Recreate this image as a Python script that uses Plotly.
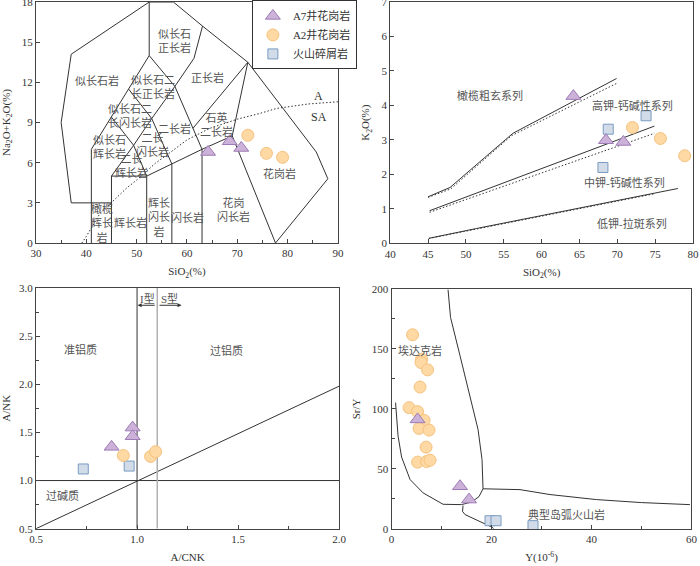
import plotly.graph_objects as go

# ---------------- data ----------------
# (a) TAS diagram
tas_a7_sio2 = [64.2, 68.5, 70.8]
tas_a7_alk = [6.8, 7.6, 7.1]
tas_a2_sio2 = [72.1, 75.8, 79.0]
tas_a2_alk = [8.05, 6.7, 6.4]

# (b) K2O - SiO2
k_a7_sio2 = [64.2, 68.5, 70.8]
k_a7_k2o = [4.27, 2.99, 2.94]
k_a2_sio2 = [72.0, 75.7, 78.9]
k_a2_k2o = [3.36, 3.04, 2.54]
k_vol_sio2 = [68.8, 73.8, 68.1]
k_vol_k2o = [3.31, 3.70, 2.20]

# (c) A/NK - A/CNK
acnk_a7 = [0.978, 0.978, 0.874]
ank_a7 = [1.55, 1.46, 1.35]
acnk_a2 = [0.932, 1.067, 1.092]
ank_a2 = [1.26, 1.25, 1.30]
acnk_vol = [0.734, 0.961]
ank_vol = [1.12, 1.15]

# (d) Sr/Y - Y
y_a7 = [5.2, 13.7, 15.5]
sry_a7 = [91.3, 35.6, 24.5]
y_a2 = [4.2, 6.0, 5.9, 7.2, 5.7, 3.5, 5.2, 6.5, 5.5, 7.5, 6.9, 5.2, 7.0, 7.7]
sry_a2 = [161.8, 141.5, 138.7, 132.6, 118.3, 101.1, 97.8, 90.5, 83.8, 82.4, 68.2, 55.7, 56.2, 57.3]
y_vol = [19.7, 20.9, 28.3]
sry_vol = [6.9, 6.9, 2.8]

# TAS field boundaries (SiO2, Na2O+K2O)
tas_boundaries = [
    ([52.5, 37.0, 35.0, 37.0, 45.0], [18.0, 14.1, 9.0, 3.0, 3.0]),
    ([41, 41], [0, 7]),
    ([41, 45, 48.4, 52.5], [7, 9.4, 11.5, 14]),
    ([52.5, 52.5, 57.3], [14, 18, 18]),
    ([57.3, 63.1, 72.1, 85.7, 88.0, 77.6], [18, 16.2, 13.5, 6.8, 4.8, 0]),
    ([63.1, 61.4, 57.6], [16.2, 13.8, 11.7]),
    ([45, 49.4, 53, 57.6], [5, 7.3, 9.3, 11.7]),
    ([48.4, 53, 57], [11.5, 9.3, 5.9]),
    ([45, 49.4, 52], [9.4, 7.3, 5]),
    ([52.5, 57.6, 63], [14, 11.7, 7]),
    ([61.2, 72.1], [8.57, 13.5]),
    ([69, 72.1], [8, 13.5]),
    ([69, 77.6], [8, 0]),
    ([45, 45, 52, 52], [0, 5, 5, 0]),
    ([52, 57, 63, 69], [5, 5.9, 7, 8]),
    ([57, 57], [0, 5.9]),
    ([63, 63], [0, 7]),
]
alk_sub_x = [39.1, 40, 42.7, 45, 48, 50, 53.7, 57.3, 60, 64.5, 70, 74.5, 77.8, 84, 90]
alk_sub_y = [0, 0.5, 2.2, 3.05, 4.1, 4.7, 5.95, 6.94, 7.7, 8.56, 9.25, 9.68, 10.05, 10.38, 10.55]

tas_labels = [
    (57.6, 15.1, "似长石<br>正长岩"), (42.05, 12.16, "似长石岩"), (64.0, 12.36, "正长岩"),
    (53.3, 11.67, "似长石二<br>长正长岩"), (48.7, 9.5, "似长石二<br>长闪长岩"),
    (57.6, 8.56, "二长岩"), (65.9, 8.88, "石英<br>二长岩"), (44.7, 7.19, "似长石<br>辉长岩"),
    (53.2, 7.31, "二长<br>闪长岩"), (49.0, 5.77, "二长<br>辉长岩"), (43.05, 1.47, "橄榄<br>辉长<br>岩"),
    (48.7, 1.52, "辉长岩"), (54.5, 1.92, "辉长<br>闪长<br>岩"), (60.05, 1.92, "闪长岩"),
    (69.2, 2.46, "花岗<br>闪长岩"), (78.3, 5.2, "花岗岩"),
]

# K2O-SiO2 series boundaries: solid and dotted versions
k_solid = [
    ([45.0, 47.9, 56.2, 69.9], [1.35, 1.62, 3.19, 4.78]),
    ([45.2, 74.9], [0.945, 3.40]),
    ([45.1, 51.4, 78.0], [0.145, 0.43, 1.59]),
]
k_dotted = [
    ([45.0, 48.0, 56.0, 70.0], [1.33, 1.58, 3.12, 4.65]),
    ([45.2, 74.9], [0.90, 3.19]),
    ([45.1, 51.4, 75.0], [0.14, 0.41, 1.44]),
]
k_labels = [(53.15, 4.28, "橄榄粗玄系列"), (72.0, 4.0, "高钾-钙碱性系列"),
            (71.0, 1.76, "中钾-钙碱性系列"), (71.9, 0.58, "低钾-拉斑系列")]

# A/NK - A/CNK lines
acnk_diag_x = [0.5, 2.0]
acnk_diag_y = [0.5, 1.98]

# Sr/Y - Y boundaries
adakite_right_x = [11.3, 11.8, 13.7, 15.7, 17.3, 18.1, 18.3]
adakite_right_y = [199.4, 176.3, 144.3, 110.8, 83.0, 57.9, 33.5]
arc_top_x = [18.3, 21.0, 25.7, 31.7, 41.0, 50.0, 59.7]
arc_top_y = [33.5, 33.4, 32.8, 28.7, 24.5, 22.0, 20.3]
left_curve_x = [0.8, 1.3, 2.0, 3.7, 6.3, 10.3, 14.0, 16.0, 17.5, 18.3]
left_curve_y = [105.3, 77.4, 60.0, 41.2, 30.1, 20.6, 20.3, 22.5, 27.0, 33.5]
arc_low_x = [14.3, 14.2, 14.7, 17.7, 20.0, 20.4]
arc_low_y = [19.5, 14.7, 12.0, 6.4, 1.7, 0.5]

# ---------------- styles ----------------
A7 = dict(symbol="triangle-up", size=13, color="#ccb2d8", line=dict(color="#9d7bb5", width=1))
A2 = dict(symbol="circle", size=12, color="#fed9a4", line=dict(color="#f6c27e", width=1))
VOL = dict(symbol="square", size=10, color="#d1dce8", line=dict(color="#7a9bc2", width=1))
SERIF = "Liberation Serif, Noto Sans CJK SC"
LABEL_FONT = dict(family=SERIF, size=11, color="#555555")
DOT = "1.5px,2px"

fig = go.Figure()


def line(xs, ys, xa, ya, dash="solid", color="#333333", width=1):
    fig.add_trace(go.Scatter(x=xs, y=ys, mode="lines", xaxis=xa, yaxis=ya,
                             line=dict(color=color, width=width, dash=dash),
                             showlegend=False, hoverinfo="skip"))


# panel a
for xs, ys in tas_boundaries:
    line(xs, ys, "x", "y")
line(alk_sub_x, alk_sub_y, "x", "y", dash=DOT, width=1)

# panel b
for xs, ys in k_solid:
    line(xs, ys, "x2", "y2")
for xs, ys in k_dotted:
    line(xs, ys, "x2", "y2", dash=DOT)

# panel c
line([1.0, 1.0], [0.5, 3.0], "x3", "y3")
line([0.5, 2.0], [1.0, 1.0], "x3", "y3")
line(acnk_diag_x, acnk_diag_y, "x3", "y3")
line([1.1, 1.1], [0.5, 3.0], "x3", "y3", color="#b0b0b0", width=1.5)

# panel d
line(adakite_right_x, adakite_right_y, "x4", "y4")
line(arc_top_x, arc_top_y, "x4", "y4")
line(left_curve_x, left_curve_y, "x4", "y4")
line(arc_low_x, arc_low_y, "x4", "y4")

# markers
fig.add_trace(go.Scatter(x=tas_a7_sio2, y=tas_a7_alk, mode="markers", marker=A7,
                         name="A7井花岗岩", xaxis="x", yaxis="y", legendrank=1))
fig.add_trace(go.Scatter(x=tas_a2_sio2, y=tas_a2_alk, mode="markers", marker=A2,
                         name="A2井花岗岩", xaxis="x", yaxis="y", legendrank=2))
fig.add_trace(go.Scatter(x=k_vol_sio2, y=k_vol_k2o, mode="markers", marker=VOL,
                         name="火山碎屑岩", xaxis="x2", yaxis="y2", legendrank=3))
fig.add_trace(go.Scatter(x=k_a7_sio2, y=k_a7_k2o, mode="markers", marker=A7,
                         xaxis="x2", yaxis="y2", showlegend=False))
fig.add_trace(go.Scatter(x=k_a2_sio2, y=k_a2_k2o, mode="markers", marker=A2,
                         xaxis="x2", yaxis="y2", showlegend=False))
fig.add_trace(go.Scatter(x=acnk_vol, y=ank_vol, mode="markers", marker=VOL,
                         xaxis="x3", yaxis="y3", showlegend=False))
fig.add_trace(go.Scatter(x=acnk_a7, y=ank_a7, mode="markers", marker=A7,
                         xaxis="x3", yaxis="y3", showlegend=False))
fig.add_trace(go.Scatter(x=acnk_a2, y=ank_a2, mode="markers", marker=A2,
                         xaxis="x3", yaxis="y3", showlegend=False))
fig.add_trace(go.Scatter(x=y_vol, y=sry_vol, mode="markers", marker=VOL,
                         xaxis="x4", yaxis="y4", showlegend=False))
fig.add_trace(go.Scatter(x=y_a2, y=sry_a2, mode="markers", marker=A2,
                         xaxis="x4", yaxis="y4", showlegend=False))
fig.add_trace(go.Scatter(x=y_a7, y=sry_a7, mode="markers", marker=A7,
                         xaxis="x4", yaxis="y4", showlegend=False))

# annotations
ann = []
for x, y, t in tas_labels:
    ann.append(dict(x=x, y=y, xref="x", yref="y", text=t, showarrow=False, font=LABEL_FONT))
ann.append(dict(x=86.2, y=10.97, xref="x", yref="y", text="A", showarrow=False,
                font=dict(family=SERIF, size=12, color="#333")))
ann.append(dict(x=86.2, y=9.43, xref="x", yref="y", text="SA", showarrow=False,
                font=dict(family=SERIF, size=12, color="#333")))
for x, y, t in k_labels:
    ann.append(dict(x=x, y=y, xref="x2", yref="y2", text=t, showarrow=False, font=LABEL_FONT))
for x, y, t in [(0.718, 2.365, "准铝质"), (1.443, 2.347, "过铝质"), (0.632, 0.836, "过碱质"),
                (1.052, 2.89, "I型"), (1.163, 2.89, "S型")]:
    ann.append(dict(x=x, y=y, xref="x3", yref="y3", text=t, showarrow=False, font=LABEL_FONT))
ann.append(dict(x=1.003, y=2.82, ax=1.095, ay=2.82, xref="x3", yref="y3", axref="x3", ayref="y3",
                text="", showarrow=True, arrowhead=2, arrowsize=0.8, arrowwidth=1, arrowcolor="#333"))
ann.append(dict(x=1.22, y=2.82, ax=1.104, ay=2.82, xref="x3", yref="y3", axref="x3", ayref="y3",
                text="", showarrow=True, arrowhead=2, arrowsize=0.8, arrowwidth=1, arrowcolor="#333"))
ann.append(dict(x=5.66, y=149, xref="x4", yref="y4", text="埃达克岩", showarrow=False, font=LABEL_FONT))
ann.append(dict(x=35, y=12, xref="x4", yref="y4", text="典型岛弧火山岩", showarrow=False, font=LABEL_FONT))


def axis(domain, rng, dtick, title, minor=None, fmt=None, anchor=None, standoff=9):
    d = dict(domain=domain, range=rng, dtick=dtick, tick0=rng[0], showline=True, linecolor="#444",
             linewidth=1, mirror=True, ticks="inside", ticklen=4, tickcolor="#444",
             showgrid=False, zeroline=False, automargin=False, ticklabeloverflow="allow",
             tickfont=dict(family=SERIF, size=11, color="#333"),
             title=dict(text=title, font=dict(family=SERIF, size=11, color="#333"), standoff=standoff),
             anchor=anchor)
    if minor:
        d["minor"] = dict(dtick=minor, ticks="inside", ticklen=3, tickcolor="#444", showgrid=False)
    if fmt:
        d["tickformat"] = fmt
    return d


fig.update_layout(
    width=700, height=566, margin=dict(l=36, r=6.7, t=1.7, b=36.7, autoexpand=False),
    paper_bgcolor="white", plot_bgcolor="white", template="none",
    xaxis=axis([0.0, 0.4595], [30, 90], 10, "SiO<sub>2</sub>(%)", minor=5, anchor="y"),
    yaxis=axis([0.5426, 1.0], [0, 18], 3, "Na<sub>2</sub>O+K<sub>2</sub>O(%)", anchor="x"),
    xaxis2=axis([0.5392, 1.0], [40, 80], 5, "SiO<sub>2</sub>(%)", anchor="y2"),
    yaxis2=axis([0.5421, 1.0], [0, 7], 1, "K<sub>2</sub>O(%)", anchor="x2"),
    xaxis3=axis([0.0, 0.4614], [0.5, 2.0], 0.5, "A/CNK", minor=0.25, fmt=".1f", anchor="y3"),
    yaxis3=axis([0.0006, 0.4574], [0.5, 3.0], 0.5, "A/NK", minor=0.25, fmt=".1f", anchor="x3"),
    xaxis4=axis([0.5412, 0.9976], [0, 60], 20, "Y(10<sup>-6</sup>)", minor=10, anchor="y4"),
    yaxis4=axis([0.0, 0.4555], [0, 200], 50, "Sr/Y", minor=25, anchor="x4"),
    annotations=ann,
    showlegend=True,
    legend=dict(x=0.3286, y=1.003, xanchor="left", yanchor="top", bgcolor="white",
                bordercolor="#333", borderwidth=1, font=dict(family=SERIF, size=11, color="#333"),
                tracegroupgap=0, itemwidth=30),
)

fig.write_html("out.html", config={"displayModeBar": False},
               post_script="document.body.style.margin='0px';")
